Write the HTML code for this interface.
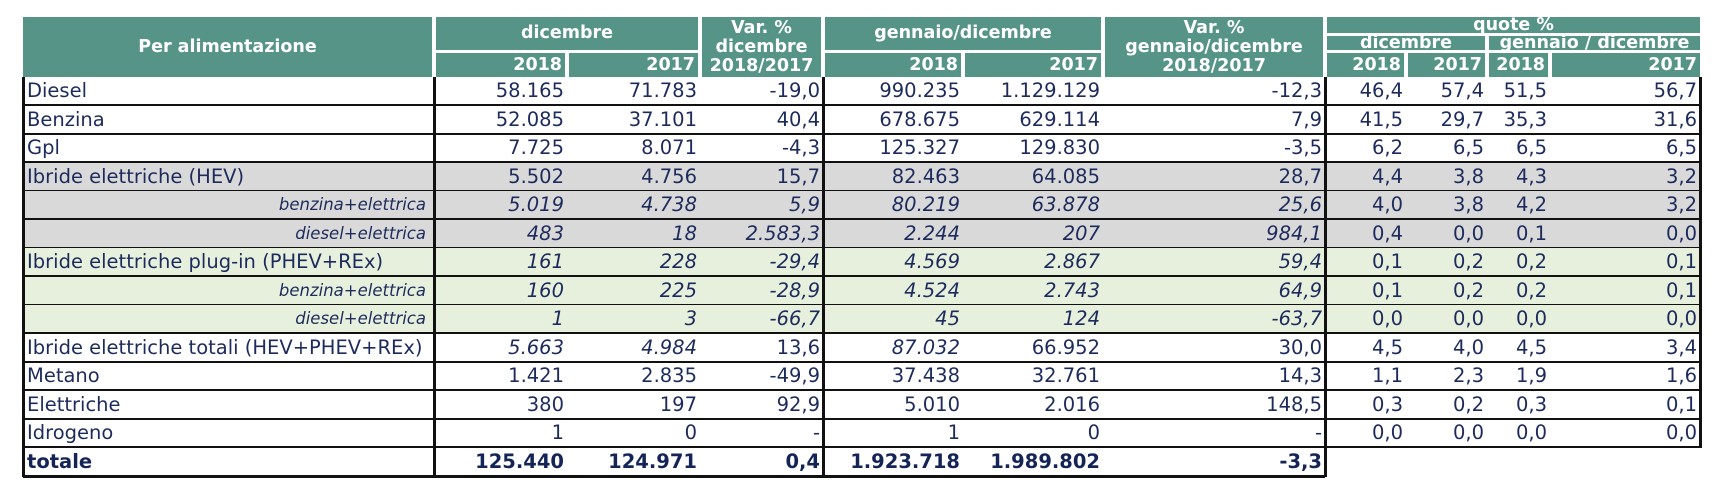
<!DOCTYPE html>
<html><head><meta charset="utf-8"><style>
body{margin:0;width:1728px;height:499px;background:#fff;position:relative;overflow:hidden;font-family:"DejaVu Sans","Liberation Sans",sans-serif;}
.h{position:absolute;background:#559487;color:#fff;font-weight:bold;font-size:17.5px;display:flex;align-items:center;justify-content:center;text-align:center;line-height:19px;box-sizing:border-box;}
.r{justify-content:flex-end;padding-right:3px;}
.row{position:absolute;left:23px;width:1677px;height:29px;display:flex;box-sizing:border-box;border-bottom:2px solid #111;color:#1d2b5c;font-size:19.5px;}
.row div{box-sizing:border-box;text-align:right;padding-right:3px;line-height:28px;white-space:nowrap;overflow:hidden;}
.row div:first-child{text-align:left;padding-left:4px;}
.row div.sub{text-align:right;padding-right:8px;font-style:italic;font-size:16.5px;}
.c1{width:411px}.c2{width:133px}.c3{width:133px}.c4{width:123px}.c5{width:140px}.c6{width:140px}.c7{width:222px}.c8{width:81px}.c9{width:81px}.c10{width:63px}.c11{width:150px}
.g{background:#d9d9d9}.gr{background:#e6f0dc}
.i{font-style:italic}
.b{font-weight:bold}
.v{position:absolute;top:77px;width:3px;height:400px;background:#111;}
</style></head><body>
<div class="h" style="left:23px;top:17px;width:409px;height:60px;">Per alimentazione</div>
<div class="h" style="left:436px;top:17px;width:262px;height:33px;">dicembre</div>
<div class="h r" style="left:436px;top:53px;width:129px;height:24px;">2018</div>
<div class="h r" style="left:569px;top:53px;width:129px;height:24px;">2017</div>
<div class="h" style="left:702px;top:17px;width:119px;height:60px;">Var. %<br>dicembre<br>2018/2017</div>
<div class="h" style="left:825px;top:17px;width:276px;height:33px;">gennaio/dicembre</div>
<div class="h r" style="left:825px;top:53px;width:136px;height:24px;">2018</div>
<div class="h r" style="left:965px;top:53px;width:136px;height:24px;">2017</div>
<div class="h" style="left:1105px;top:17px;width:218px;height:60px;">Var. %<br>gennaio/dicembre<br>2018/2017</div>
<div class="h" style="left:1327px;top:17px;width:373px;height:16px;">quote %</div>
<div class="h" style="left:1327px;top:36px;width:158px;height:14px;">dicembre</div>
<div class="h" style="left:1489px;top:36px;width:211px;height:14px;">gennaio / dicembre</div>
<div class="h r" style="left:1327px;top:53px;width:77px;height:24px;">2018</div>
<div class="h r" style="left:1408px;top:53px;width:77px;height:24px;">2017</div>
<div class="h r" style="left:1489px;top:53px;width:59px;height:24px;">2018</div>
<div class="h r" style="left:1552px;top:53px;width:148px;height:24px;">2017</div>

<div class="row" style="top:77px"><div class="c1">Diesel</div><div class="c2">58.165</div><div class="c3">71.783</div><div class="c4">-19,0</div><div class="c5">990.235</div><div class="c6">1.129.129</div><div class="c7">-12,3</div><div class="c8">46,4</div><div class="c9">57,4</div><div class="c10">51,5</div><div class="c11">56,7</div></div>
<div class="row" style="top:105.5px"><div class="c1">Benzina</div><div class="c2">52.085</div><div class="c3">37.101</div><div class="c4">40,4</div><div class="c5">678.675</div><div class="c6">629.114</div><div class="c7">7,9</div><div class="c8">41,5</div><div class="c9">29,7</div><div class="c10">35,3</div><div class="c11">31,6</div></div>
<div class="row" style="top:134px"><div class="c1">Gpl</div><div class="c2">7.725</div><div class="c3">8.071</div><div class="c4">-4,3</div><div class="c5">125.327</div><div class="c6">129.830</div><div class="c7">-3,5</div><div class="c8">6,2</div><div class="c9">6,5</div><div class="c10">6,5</div><div class="c11">6,5</div></div>
<div class="row g" style="top:162.5px"><div class="c1">Ibride elettriche (HEV)</div><div class="c2">5.502</div><div class="c3">4.756</div><div class="c4">15,7</div><div class="c5">82.463</div><div class="c6">64.085</div><div class="c7">28,7</div><div class="c8">4,4</div><div class="c9">3,8</div><div class="c10">4,3</div><div class="c11">3,2</div></div>
<div class="row g i" style="top:191px"><div class="c1 sub">benzina+elettrica</div><div class="c2">5.019</div><div class="c3">4.738</div><div class="c4">5,9</div><div class="c5">80.219</div><div class="c6">63.878</div><div class="c7">25,6</div><div class="c8" style="font-style:normal">4,0</div><div class="c9" style="font-style:normal">3,8</div><div class="c10" style="font-style:normal">4,2</div><div class="c11" style="font-style:normal">3,2</div></div>
<div class="row g i" style="top:219.5px"><div class="c1 sub">diesel+elettrica</div><div class="c2">483</div><div class="c3">18</div><div class="c4">2.583,3</div><div class="c5">2.244</div><div class="c6">207</div><div class="c7">984,1</div><div class="c8" style="font-style:normal">0,4</div><div class="c9" style="font-style:normal">0,0</div><div class="c10" style="font-style:normal">0,1</div><div class="c11" style="font-style:normal">0,0</div></div>
<div class="row gr" style="top:248px"><div class="c1">Ibride elettriche plug-in (PHEV+REx)</div><div class="c2 i">161</div><div class="c3 i">228</div><div class="c4 i">-29,4</div><div class="c5 i">4.569</div><div class="c6 i">2.867</div><div class="c7 i">59,4</div><div class="c8">0,1</div><div class="c9">0,2</div><div class="c10">0,2</div><div class="c11">0,1</div></div>
<div class="row gr i" style="top:276.5px"><div class="c1 sub">benzina+elettrica</div><div class="c2">160</div><div class="c3">225</div><div class="c4">-28,9</div><div class="c5">4.524</div><div class="c6">2.743</div><div class="c7">64,9</div><div class="c8" style="font-style:normal">0,1</div><div class="c9" style="font-style:normal">0,2</div><div class="c10" style="font-style:normal">0,2</div><div class="c11" style="font-style:normal">0,1</div></div>
<div class="row gr i" style="top:305px"><div class="c1 sub">diesel+elettrica</div><div class="c2">1</div><div class="c3">3</div><div class="c4">-66,7</div><div class="c5">45</div><div class="c6">124</div><div class="c7">-63,7</div><div class="c8" style="font-style:normal">0,0</div><div class="c9" style="font-style:normal">0,0</div><div class="c10" style="font-style:normal">0,0</div><div class="c11" style="font-style:normal">0,0</div></div>
<div class="row" style="top:333.5px"><div class="c1">Ibride elettriche totali (HEV+PHEV+REx)</div><div class="c2 i">5.663</div><div class="c3 i">4.984</div><div class="c4">13,6</div><div class="c5 i">87.032</div><div class="c6">66.952</div><div class="c7">30,0</div><div class="c8">4,5</div><div class="c9">4,0</div><div class="c10">4,5</div><div class="c11">3,4</div></div>
<div class="row" style="top:362px"><div class="c1">Metano</div><div class="c2">1.421</div><div class="c3">2.835</div><div class="c4">-49,9</div><div class="c5">37.438</div><div class="c6">32.761</div><div class="c7">14,3</div><div class="c8">1,1</div><div class="c9">2,3</div><div class="c10">1,9</div><div class="c11">1,6</div></div>
<div class="row" style="top:390.5px"><div class="c1">Elettriche</div><div class="c2">380</div><div class="c3">197</div><div class="c4">92,9</div><div class="c5">5.010</div><div class="c6">2.016</div><div class="c7">148,5</div><div class="c8">0,3</div><div class="c9">0,2</div><div class="c10">0,3</div><div class="c11">0,1</div></div>
<div class="row" style="top:419px"><div class="c1">Idrogeno</div><div class="c2">1</div><div class="c3">0</div><div class="c4">-</div><div class="c5">1</div><div class="c6">0</div><div class="c7">-</div><div class="c8">0,0</div><div class="c9">0,0</div><div class="c10">0,0</div><div class="c11">0,0</div></div>
<div class="row b" style="top:447.5px;width:1302px;border-bottom:3px solid #111;height:30px;color:#142457"><div class="c1">totale</div><div class="c2">125.440</div><div class="c3">124.971</div><div class="c4">0,4</div><div class="c5">1.923.718</div><div class="c6">1.989.802</div><div class="c7">-3,3</div></div>

<div class="v" style="left:22px;"></div>
<div class="v" style="left:433px;"></div>
<div class="v" style="left:822px;"></div>
<div class="v" style="left:1324px;"></div>
<div class="v" style="left:1699px;height:371px;"></div>
</body></html>
